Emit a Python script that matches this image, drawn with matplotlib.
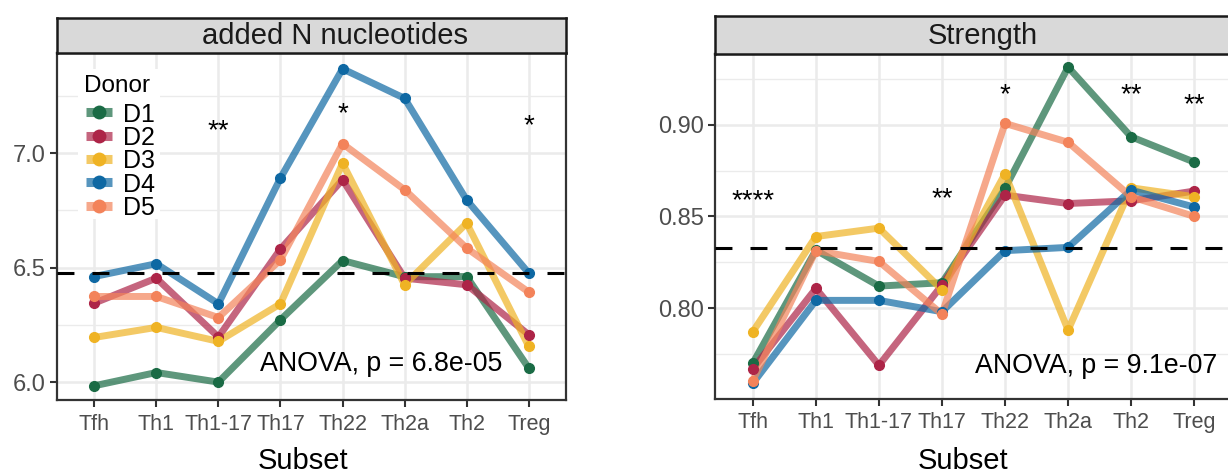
import matplotlib
matplotlib.use("Agg")
import matplotlib.pyplot as plt
from matplotlib.lines import Line2D
from matplotlib.patches import Rectangle
import numpy as np

plt.rcParams['font.family'] = ['Liberation Sans', 'DejaVu Sans']
plt.rcParams['lines.scale_dashes'] = False

subsets = ["Tfh", "Th1", "Th1-17", "Th17", "Th22", "Th2a", "Th2", "Treg"]
donors = ["D1", "D2", "D3", "D4", "D5"]
colors = ["#1A6B45", "#AD2447", "#EFB324", "#0E68A3", "#F3835A"]

# added N nucleotides
n_D1 = [5.984, 6.042, 6.000, 6.272, 6.531, 6.460, 6.461, 6.061]
n_D2 = [6.345, 6.454, 6.197, 6.581, 6.884, 6.454, 6.425, 6.207]
n_D3 = [6.195, 6.239, 6.178, 6.342, 6.956, 6.425, 6.694, 6.156]
n_D4 = [6.461, 6.517, 6.342, 6.891, 7.368, 7.239, 6.795, 6.476]
n_D5 = [6.374, 6.374, 6.282, 6.534, 7.041, 6.840, 6.585, 6.393]
n_mean = 6.476
n_stars = [("**", 2, 7.131), ("*", 4, 7.204), ("*", 7, 7.153)]
n_anova = "ANOVA, p = 6.8e-05"

# Strength
s_D1 = [0.7700, 0.8316, 0.8120, 0.8138, 0.8653, 0.9314, 0.8934, 0.8796]
s_D2 = [0.7669, 0.8107, 0.7688, 0.8125, 0.8616, 0.8570, 0.8585, 0.8638]
s_D3 = [0.7871, 0.8390, 0.8436, 0.8100, 0.8732, 0.7880, 0.8656, 0.8607]
s_D4 = [0.7590, 0.8042, 0.8042, 0.7980, 0.8313, 0.8331, 0.8643, 0.8551]
s_D5 = [0.7605, 0.8313, 0.8254, 0.7967, 0.9007, 0.8904, 0.8607, 0.8500]
s_mean = 0.8329
s_stars = [("****", 0, 0.8629), ("**", 3, 0.8640), ("*", 4, 0.9204),
           ("**", 6, 0.9204), ("**", 7, 0.9149)]
s_anova = "ANOVA, p = 9.1e-07"

W, H = 1228, 476
fig = plt.figure(figsize=(W / 100, H / 100), dpi=100)
fig.patch.set_facecolor("white")


def px_rect(x0, y_top, x1, y_bot):
    return [x0 / W, 1 - y_bot / H, (x1 - x0) / W, (y_bot - y_top) / H]


def panel(rect, strip_rect, strip_cx, title, series, mean, ylim, yticks, yminor,
          ytick_labels, stars, anova, anova_xy):
    ax = fig.add_axes(rect)
    x = np.arange(len(subsets))
    ax.set_xlim(-0.6, len(subsets) - 0.4)
    ax.set_ylim(*ylim)
    ax.set_yticks(yticks)
    ax.set_yticklabels(ytick_labels)
    ax.set_yticks(yminor, minor=True)
    ax.set_xticks(x)
    ax.set_xticklabels(subsets)
    ax.grid(True, which="major", color="#EBEBEB", lw=1.8, zorder=0)
    ax.grid(True, which="minor", axis="y", color="#EBEBEB", lw=1.0, zorder=0)
    ax.set_axisbelow(True)
    for sp in ax.spines.values():
        sp.set_color("#333333")
        sp.set_linewidth(1.6)
    ax.tick_params(axis="both", which="major", length=5, width=1.5, color="#333333",
                   labelcolor="#4D4D4D", pad=3)
    ax.tick_params(axis="y", which="major", labelsize=17)
    ax.tick_params(axis="x", which="major", labelsize=15.5, pad=5)
    ax.tick_params(axis="both", which="minor", length=0)
    for vals, c in zip(series, colors):
        ax.plot(x, vals, color=c, lw=5.0, alpha=0.7, solid_capstyle="butt", zorder=2)
    for vals, c in zip(series, colors):
        ax.plot(x, vals, ls="none", marker="o", ms=7, color=c, mec=c, zorder=3)
    ax.axhline(mean, color="black", lw=2.2, dashes=(12.2, 13.0), zorder=4)
    for s, xi, yi in stars:
        ax.annotate(s, (xi, yi), xytext=(0, -11), textcoords="offset points",
                    ha="center", va="baseline", fontsize=20, color="black", zorder=5)
    ax.text(anova_xy[0], anova_xy[1], anova, ha="left", va="baseline",
            fontsize=19.3, color="black", zorder=5)
    sax = fig.add_axes(strip_rect)
    sax.set_facecolor("#D9D9D9")
    sax.set_xticks([])
    sax.set_yticks([])
    for sp in sax.spines.values():
        sp.set_color("#1A1A1A")
        sp.set_linewidth(1.8)
    fig.text(strip_cx / W, 1 - 35.5 / H, title, ha="center", va="center",
             fontsize=21, color="#1A1A1A")
    return ax


axL = panel(px_rect(57, 53, 566, 400), px_rect(57, 18, 566, 53), 335,
            "added N nucleotides", [n_D1, n_D2, n_D3, n_D4, n_D5], n_mean,
            (5.922, 7.437), [6.0, 6.5, 7.0], [6.25, 6.75, 7.25],
            ["6.0", "6.5", "7.0"], n_stars, n_anova, (2.67, 6.047))

axR = panel(px_rect(715, 53.5, 1232, 398.5), px_rect(715, 16, 1232, 53.5), 983,
            "Strength", [s_D1, s_D2, s_D3, s_D4, s_D5], s_mean,
            (0.7507, 0.9388), [0.80, 0.85, 0.90], [0.775, 0.825, 0.875, 0.925],
            ["0.80", "0.85", "0.90"], s_stars, s_anova, (3.517, 0.7647))

# x axis titles
fig.text(303 / W, 1 / H, "Subset", ha="center", va="bottom", fontsize=21, color="black")
fig.text(963 / W, 1 / H, "Subset", ha="center", va="bottom", fontsize=21, color="black")

# legend (drawn manually in pixel positions of the figure)
fig.add_artist(Rectangle((78 / W, 1 - 219 / H), 82 / W, 150 / H,
                         transform=fig.transFigure, facecolor="white",
                         edgecolor="none", zorder=6))
fig.text(84 / W, 1 - 92.5 / H, "Donor", ha="left", va="baseline", fontsize=17.5,
         color="black", zorder=7)
entry_y = [112, 135.5, 159, 182, 205.5]
for lab, c, yy in zip(donors, colors, entry_y):
    yf = 1 - yy / H
    fig.add_artist(Line2D([86 / W, 112 / W], [yf, yf], transform=fig.transFigure,
                          color=c, lw=6.5, alpha=0.7, solid_capstyle="butt", zorder=7))
    fig.add_artist(Line2D([99 / W], [yf], transform=fig.transFigure, ls="none",
                          marker="o", ms=10, mfc=c, mec=c, mew=0, zorder=8))
    fig.text(123 / W, yf, lab, ha="left", va="center_baseline", fontsize=18,
             color="black", zorder=8)

fig.savefig("out.png", dpi=100, facecolor="white")
